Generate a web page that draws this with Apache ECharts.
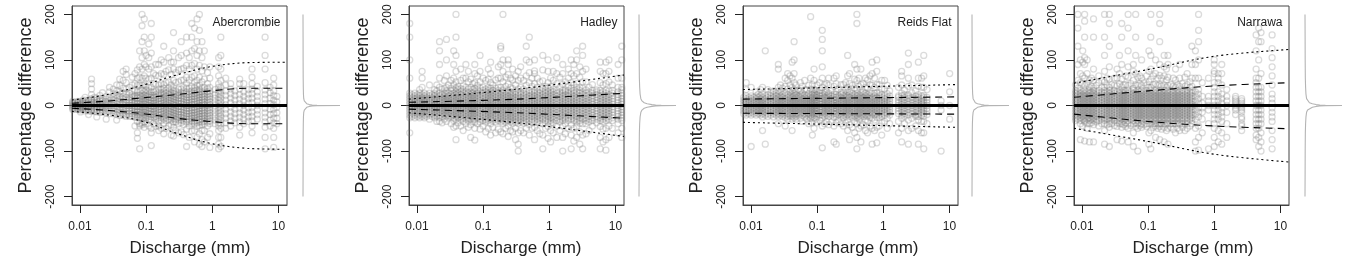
<!DOCTYPE html>
<html>
<head>
<meta charset="utf-8">
<script src="https://cdn.jsdelivr.net/npm/echarts@6/dist/echarts.min.js"></script>
<style>
html,body{margin:0;padding:0;background:#fff;}
#c{width:1362px;height:269px;}
</style>
</head>
<body>
<div id="c"></div>
<script>
// ---------- DATA ----------
const siteNames = ['Abercrombie', 'Hadley', 'Reids Flat', 'Narrawa'];
const xTicks = [0.01, 0.1, 1, 10];
const yTicks = [-200, -100, 0, 100, 200];

// Abercrombie: discharge columns (mm) and percentage differences read per column
const abercrombieX = [0.0078,0.0085,0.0093,0.0102,0.011,0.012,0.0135,0.015,0.0165,0.018,0.02,0.022,0.025,0.028,0.032,0.036,0.04,0.045,0.05,0.056,0.062,0.068,0.074,0.08,0.087,0.094,0.1,0.11,0.12,0.13,0.14,0.155,0.17,0.185,0.2,0.22,0.24,0.26,0.28,0.31,0.34,0.37,0.41,0.45,0.49,0.54,0.59,0.64,0.7,0.76,0.85,0.92,1.1,1.25,1.35,1.6,1.9,2.2,2.6,3.0,3.5,4.0,4.8,6.3,7.5,8.5,9.5];
const abercrombieY = [
[-9,-6,-3,0,3,6,9],[-8,-5,-2,1,4,7],[-9,-6,-3,0,3,6,9],[-10,-7,-4,-1,2,5,8,-14],[-9,-6,-3,0,3,6,9,12],[-12,-8,-4,0,4,8,12,18],
[-12,-8,-4,0,4,8,12,-20],[-13,-9,-5,-1,3,7,11,15,24,36,48,58],[-13,-8,-3,2,7,12,18],[-14,-9,-4,1,6,11,16,-25],[-15,-10,-5,0,5,10,15,22],
[-15,-10,-5,0,5,10,15,28],[-16,-11,-6,-1,4,9,14,20,-30],[-18,-12,-6,0,6,12,18,30,40],[-18,-12,-6,0,6,12,18,26,36],
[-20,-14,-8,-2,4,10,16,22,32,45,-32],[-22,-16,-10,-4,2,8,14,20,30,44,58],[-22,-16,-10,-4,2,8,14,20,28,38,55,75],
[-24,-18,-12,-6,0,6,12,18,25,36,50,68,80],[-24,-18,-12,-6,0,6,12,18,27,40],[-24,-18,-12,-6,0,6,12,18,24,32,45,62],
[-26,-20,-14,-8,-2,4,10,16,22,32,48,70,-45],[-26,-20,-14,-8,-2,4,10,16,22,30,44,60,78,-60,-72,-35],
[-26,-20,-14,-8,-2,4,10,16,22,30,45,62,85,120,-40,-45,-95],[-42,-38,-28,-22,-16,-10,-4,2,8,14,20,26,34,44,60,80,105,140,175,200],
[-48,-36,-26,-20,-14,-8,-2,4,10,16,22,30,45,65,90,120,150,190],[-40,-28,-22,-16,-10,-4,2,8,14,20,26,34,42,60,85,110],
[-45,-30,-24,-18,-12,-6,0,6,12,18,24,32,40,58,80,105,135],[-88,-50,-32,-25,-19,-13,-7,-1,5,11,17,23,30,40,60,85,115,150,180,-60],
[-40,-26,-20,-14,-8,-2,4,10,16,22,30,48,70],[-46,-30,-24,-18,-12,-6,0,6,12,18,24,31,46,66,90],
[-55,-35,-27,-21,-15,-9,-3,3,9,15,21,28,36,45,65,90,-45],[-50,-33,-26,-20,-14,-8,-2,4,10,16,22,28,36,48,70,100],
[-62,-40,-30,-24,-18,-12,-6,0,6,12,18,24,30,38,46,68,95,130],[-50,-33,-27,-21,-15,-9,-3,3,9,15,21,27,33,50,75],
[-45,-30,-24,-18,-12,-6,0,6,12,18,24,30,38,52,78,105],[-65,-42,-32,-26,-20,-14,-8,-2,4,10,16,22,28,36,45,68,95],
[-67,-48,-36,-28,-22,-16,-10,-4,2,8,14,20,26,32,40,55,80,95,120,160],[-55,-36,-30,-24,-18,-12,-6,0,6,12,18,24,32,50,72],
[-60,-40,-32,-26,-20,-14,-8,-2,4,10,16,22,28,36,52,78,105],[-58,-38,-32,-26,-20,-14,-8,-2,4,10,16,22,28,36,55,80,110,140],
[-64,-42,-34,-28,-22,-16,-10,-4,2,8,14,20,26,32,40,56,82],[-90,-52,-36,-30,-24,-18,-12,-6,0,6,12,18,24,30,38,48,62,88,115,150],
[-70,-45,-36,-30,-24,-18,-12,-6,0,6,12,18,24,30,38,56,80,105],[-56,-40,-34,-28,-22,-16,-10,-4,2,8,14,20,26,32,42,62,88,120,150,180],
[-80,-55,-40,-34,-28,-22,-16,-10,-4,2,8,14,20,26,32,40,50,65,92,125,170],[-70,-46,-38,-32,-26,-20,-14,-8,-2,4,10,16,22,28,34,44,55,80,110,140,190],
[-85,-62,-44,-36,-30,-24,-18,-12,-6,0,6,12,18,24,30,36,45,62,88,120,165,200],[-90,-75,-55,-42,-36,-30,-24,-18,-12,-6,0,6,12,18,24,30,38,52,76,105,140],
[-80,-55,-40,-34,-28,-22,-16,-10,-4,2,8,14,20,26,32,40,58,85,120],[-70,-45,-36,-30,-24,-18,-12,-6,0,6,12,18,24,30,38,48,72],
[-92,-62,-40,-34,-28,-22,-16,-10,-4,2,8,14,20,26,32,40,60,85],[-40,-32,-24,-16,-8,0,8,16,24,35],
[-95,-85,-70,-55,-45,-38,-31,-24,-17,-10,-3,4,11,18,25,32,40,48,65,85,105],[-90,-70,-50,-40,-32,-24,-16,-8,0,8,16,24,32,40,55,80,110,150],
[-50,-38,-28,-18,-8,2,12,22,32,45,60],[-45,-34,-24,-14,-4,6,16,26,36,48],[-38,-28,-18,-8,2,12,22,32],
[-65,-48,-36,-26,-16,-6,4,14,24,36,48,58],[-40,-30,-20,-10,0,10,20,30,48],[-35,-25,-15,-5,5,15,25,35],
[-60,-45,-34,-24,-14,-4,6,16,26,36,48,62,80],[-30,-20,-10,0,10,20,30,42],[-95,-70,-48,-36,-26,-16,-6,4,14,24,34,50,80,110,150,180],
[-45,-32,-20,-8,4,16,28,40],[-92,-70,-50,-38,-28,-18,-8,2,12,22,32,45,60],[-40,-28,-16,-4,8,20]
];

// Hadley
const hadleyX = [0.0078,0.0085,0.0093,0.0102,0.011,0.012,0.013,0.014,0.0155,0.017,0.0185,0.02,0.022,0.024,0.026,0.028,0.03,0.033,0.036,0.039,0.042,0.046,0.05,0.055,0.06,0.065,0.07,0.075,0.082,0.09,0.1,0.11,0.12,0.13,0.14,0.155,0.17,0.185,0.2,0.22,0.24,0.26,0.28,0.31,0.34,0.37,0.41,0.45,0.5,0.55,0.6,0.66,0.72,0.8,0.88,0.96,1.05,1.15,1.3,1.45,1.6,1.75,1.95,2.15,2.35,2.6,2.9,3.2,3.6,4.0,4.5,5.2,5.9,6.5,7.2,8.0,9.0,11,12.5];
const hadleyY = [
[-60,-27,-21,-15,-9,-3,3,9,15,21,27,60,100,150,180],[-24,-18,-12,-6,0,6,12,18,24],[-27,-21,-15,-9,-3,3,9,15,21,27],
[-24,-18,-12,-6,0,6,12,18,24],[-27,-21,-15,-9,-3,3,9,15,21,27,35],[-24,-18,-12,-6,0,6,12,18,24,40,60,75],
[-27,-21,-15,-9,-3,3,9,15,21,27],[-24,-18,-12,-6,0,6,12,18,24],[-30,-21,-15,-9,-3,3,9,15,21,27,45],
[-24,-18,-12,-6,0,6,12,18,24],[-27,-21,-15,-9,-3,3,9,15,21,27,35],[-35,-24,-18,-12,-6,0,6,12,18,24,32,45],
[-27,-21,-15,-9,-3,3,9,15,21,27,40,60,90,120,140,-35],[-38,-24,-18,-12,-6,0,6,12,18,24,36],[-30,-21,-15,-9,-3,3,9,15,21,27,38,55],
[-35,-24,-18,-12,-6,0,6,12,18,24,32,40,65,100,145],[-27,-21,-15,-9,-3,3,9,15,21,27,45],[-40,-24,-18,-12,-6,0,6,12,18,24,32,38,55],
[-48,-33,-27,-21,-15,-9,-3,3,9,15,21,27,35,45,60,90,120],[-75,-45,-30,-24,-18,-12,-6,0,6,12,18,24,30,38,52,75,110,150,200],
[-38,-27,-21,-15,-9,-3,3,9,15,21,27,35,42],[-45,-30,-24,-18,-12,-6,0,6,12,18,24,30,37,55,80],
[-55,-35,-27,-21,-15,-9,-3,3,9,15,21,27,35,43,60],[-40,-30,-24,-18,-12,-6,0,6,12,18,24,30,40,60,90],
[-48,-33,-27,-21,-15,-9,-3,3,9,15,21,27,36,52,75],[-70,-42,-30,-24,-18,-12,-6,0,6,12,18,24,30,40,58],
[-35,-27,-21,-15,-9,-3,3,9,15,21,27,35,48],[-76,-50,-36,-30,-24,-18,-12,-6,0,6,12,18,24,30,38,50,70,90],
[-40,-27,-21,-15,-9,-3,3,9,15,21,27,35,44,65],[-52,-36,-30,-24,-18,-12,-6,0,6,12,18,24,30,38,52,75,110],
[-45,-33,-27,-21,-15,-9,-3,3,9,15,21,27,33,40,60],[-58,-36,-30,-24,-18,-12,-6,0,6,12,18,24,30,36,55],
[-50,-33,-27,-21,-15,-9,-3,3,9,15,21,27,33,40,58,80],[-65,-40,-30,-24,-18,-12,-6,0,6,12,18,24,30,38,50,70,95],
[-48,-33,-27,-21,-15,-9,-3,3,9,15,21,27,33,45],[-60,-36,-30,-24,-18,-12,-6,0,6,12,18,24,30,38,56],
[-52,-33,-27,-21,-15,-9,-3,3,9,15,21,27,33,40,60,85],[-58,-36,-30,-24,-18,-12,-6,0,6,12,18,24,30,40,60,90,125,130],
[-62,-40,-33,-27,-21,-15,-9,-3,3,9,15,21,27,34,52,75,100,200],[-50,-36,-30,-24,-18,-12,-6,0,6,12,18,24,30,42,62],
[-68,-45,-33,-27,-21,-15,-9,-3,3,9,15,21,27,33,47,68,90,100],[-55,-36,-30,-24,-18,-12,-6,0,6,12,18,24,30,40,60],
[-58,-39,-33,-27,-21,-15,-9,-3,3,9,15,21,27,37,56,80],[-75,-50,-36,-30,-24,-18,-12,-6,0,6,12,18,24,30,45,65],
[-100,-85,-60,-39,-33,-27,-21,-15,-9,-3,3,9,15,21,27,36,55,75],[-55,-36,-30,-24,-18,-12,-6,0,6,12,18,24,30,40,60,85],
[-60,-39,-33,-27,-21,-15,-9,-3,3,9,15,21,27,36,55],[-50,-36,-30,-24,-18,-12,-6,0,6,12,18,24,30,44,65,100,130],
[-65,-42,-33,-27,-21,-15,-9,-3,3,9,15,21,27,33,50,72,95,150],[-50,-36,-30,-24,-18,-12,-6,0,6,12,18,24,30,42,60],
[-75,-48,-33,-27,-21,-15,-9,-3,3,9,15,21,27,33,48,70,76,100],[-55,-36,-30,-24,-18,-12,-6,0,6,12,18,24,30,40,60],
[-62,-40,-33,-27,-21,-15,-9,-3,3,9,15,21,27,34,52],[-95,-65,-40,-30,-24,-18,-12,-6,0,6,12,18,24,30,38,54,78,110],
[-50,-33,-27,-21,-15,-9,-3,3,9,15,21,27,33,42],[-72,-46,-36,-30,-24,-18,-12,-6,0,6,12,18,24,30,38,50,75,100],
[-80,-55,-39,-33,-27,-21,-15,-9,-3,3,9,15,21,27,33,42,60],[-60,-38,-30,-24,-18,-12,-6,0,6,12,18,24,30,36,55,75],
[-70,-45,-33,-27,-21,-15,-9,-3,3,9,15,21,27,33,48,70,105],[-55,-36,-30,-24,-18,-12,-6,0,6,12,18,24,30,40,62],
[-100,-70,-45,-33,-27,-21,-15,-9,-3,3,9,15,21,27,33,47,70,90],[-62,-40,-30,-24,-18,-12,-6,0,6,12,18,24,30,34,52],
[-50,-33,-27,-21,-15,-9,-3,3,9,15,21,27,33,42,60,80],[-95,-65,-42,-30,-24,-18,-12,-6,0,6,12,18,24,30,38,50,70,100],
[-78,-50,-33,-27,-21,-15,-9,-3,3,9,15,21,27,33,45,65,90],[-70,-46,-36,-30,-24,-18,-12,-6,0,6,12,18,24,30,40,48,70,100,120],
[-85,-58,-39,-33,-27,-21,-15,-9,-3,3,9,15,21,27,33,40,62,85],[-95,-65,-40,-30,-24,-18,-12,-6,0,6,12,18,24,30,38,52,75,110,130],
[-62,-40,-33,-27,-21,-15,-9,-3,3,9,15,21,27,34,52,80],[-55,-36,-30,-24,-18,-12,-6,0,6,12,18,24,30,40],
[-45,-33,-27,-21,-15,-9,-3,3,9,15,21,27,33,46],[-38,-30,-24,-18,-12,-6,0,6,12,18,24,30,34],
[-95,-70,-46,-33,-27,-21,-15,-9,-3,3,9,15,21,27,33,50,75,95],[-80,-52,-36,-30,-24,-18,-12,-6,0,6,12,18,24,30,45,70],
[-98,-75,-50,-33,-27,-21,-15,-9,-3,3,9,15,21,27,33,48,70,95],[-70,-45,-30,-24,-18,-12,-6,0,6,12,18,24,32,52,75,100],
[-50,-33,-27,-21,-15,-9,-3,3,9,15,21,27,33,45],[-60,-40,-30,-24,-18,-12,-6,0,6,12,18,24,30,40,60,90],
[-70,-50,-33,-27,-21,-15,-9,-3,3,9,15,21,27,35,40,60,100,130]
];

// Reids Flat
const reidsFlatX = [0.0078,0.0085,0.0093,0.0101,0.011,0.012,0.013,0.014,0.015,0.0165,0.018,0.02,0.022,0.024,0.026,0.028,0.03,0.033,0.036,0.039,0.042,0.045,0.048,0.052,0.056,0.06,0.065,0.07,0.075,0.08,0.085,0.09,0.095,0.1,0.11,0.12,0.13,0.14,0.15,0.165,0.18,0.195,0.21,0.23,0.25,0.27,0.29,0.31,0.34,0.37,0.4,0.43,0.46,0.5,0.54,0.58,0.63,0.68,0.74,0.8,0.87,0.95,1.05,1.15,1.25,1.7,1.9,2.1,2.4,2.7,3.1,3.4,3.8,4.1,4.6,7.5,10.1];
const reidsFlatY = [
[-18,-12,-6,0,6,12,18],[-21,-15,-9,-3,3,9,15,21,35,50],[-18,-12,-6,0,6,12,18],[-90,-21,-15,-9,-3,3,9,15,21,40],
[-18,-12,-6,0,6,12,18],[-21,-15,-9,-3,3,9,15,21,30],[-18,-12,-6,0,6,12,18,25],[-21,-15,-9,-3,3,9,15,21,35],
[-55,-25,-18,-12,-6,0,6,12,18,25,40],[-85,-21,-15,-9,-3,3,9,15,21,120],[-24,-18,-12,-6,0,6,12,18,24,35],
[-21,-15,-9,-3,3,9,15,21,28],[-25,-18,-12,-6,0,6,12,18,24,32],[-21,-15,-9,-3,3,9,15,21,27],
[-40,-24,-18,-12,-6,0,6,12,18,24,32,40,80,90],[-21,-15,-9,-3,3,9,15,21,30,45],[-24,-18,-12,-6,0,6,12,18,24,38],
[-45,-27,-21,-15,-9,-3,3,9,15,21,28,42,60],[-30,-24,-18,-12,-6,0,6,12,18,24,36,55,70],[-22,-15,-9,-3,3,9,15,21,30,45,65],
[-55,-30,-24,-18,-12,-6,0,6,12,18,24,32,40,60,95],[-27,-21,-15,-9,-3,3,9,15,21,27,35,50,70,100,140],
[-30,-24,-18,-12,-6,0,6,12,18,24,30,45],[-21,-15,-9,-3,3,9,15,21,34],[-28,-18,-12,-6,0,6,12,18,24,32,50],
[-35,-21,-15,-9,-3,3,9,15,21,27,42],[-26,-18,-12,-6,0,6,12,18,24,35,55],[-30,-21,-15,-9,-3,3,9,15,21,34],
[-40,-24,-18,-12,-6,0,6,12,18,26,44],[-28,-21,-15,-9,-3,3,9,15,21,36,60,195],[-65,-38,-24,-18,-12,-6,0,6,12,18,24,30,46],
[-50,-27,-21,-15,-9,-3,3,9,15,21,27,35,55,80],[-30,-18,-12,-6,0,6,12,18,24,34],[-38,-24,-18,-12,-6,0,6,12,18,24,30,45],
[-32,-21,-15,-9,-3,3,9,15,21,27,33,50],[-93,-45,-27,-21,-15,-9,-3,3,9,15,21,27,40,60,85,120,145,165],
[-40,-24,-18,-12,-6,0,6,12,18,24,29,46],[-35,-21,-15,-9,-3,3,9,15,21,30,48],[-42,-24,-18,-12,-6,0,6,12,18,24,27,44,60],
[-36,-21,-15,-9,-3,3,9,15,21,33],[-80,-45,-26,-18,-12,-6,0,6,12,18,25,42,60],[-85,-38,-24,-18,-12,-6,0,6,12,18,24,31,48,65],
[-32,-21,-15,-9,-3,3,9,15,21,36],[-40,-24,-18,-12,-6,0,6,12,18,24,29,46],[-45,-27,-21,-15,-9,-3,3,9,15,21,28,46],
[-38,-24,-18,-12,-6,0,6,12,18,24,34,50],[-55,-32,-21,-15,-9,-3,3,9,15,21,30,40,65,110],[-75,-42,-24,-18,-12,-6,0,6,12,18,24,30,48,70],
[-48,-27,-21,-15,-9,-3,3,9,15,21,27,44],[-60,-35,-24,-18,-12,-6,0,6,12,18,24,38,58,90],
[-95,-70,-40,-27,-21,-15,-9,-3,3,9,15,21,27,34,55,80,180,200],[-50,-30,-24,-18,-12,-6,0,6,12,18,24,42,60],
[-80,-45,-27,-21,-15,-9,-3,3,9,15,21,28,46,80],[-42,-24,-18,-12,-6,0,6,12,18,24,30,48],[-55,-32,-21,-15,-9,-3,3,9,15,21,27,40,60],
[-60,-35,-24,-18,-12,-6,0,6,12,18,24,38,56],[-45,-27,-21,-15,-9,-3,3,9,15,21,28,46,65],[-85,-50,-28,-18,-12,-6,0,6,12,18,26,44,70,95],
[-55,-32,-21,-15,-9,-3,3,9,15,21,27,40,60],[-82,-48,-26,-18,-12,-6,0,6,12,18,28,46,75,100],[-45,-27,-21,-15,-9,-3,3,9,15,21,28,46],
[-65,-38,-24,-18,-12,-6,0,6,12,18,24,36,55],[-35,-21,-15,-9,-3,3,9,15,21,36,55],[-50,-28,-18,-12,-6,0,6,12,18,26,44],
[-40,-21,-15,-9,-3,3,9,15,21,32],[-60,-35,-18,-12,-6,0,6,12,18,21,40],[-80,-50,-28,-21,-15,-9,-3,3,9,15,21,27,45,65,75],
[-40,-24,-18,-12,-6,0,6,12,18,24,34],[-85,-55,-32,-21,-15,-9,-3,3,9,15,21,24,42,60,90,115],[-50,-28,-18,-12,-6,0,6,12,18,28,45],
[-45,-24,-21,-15,-9,-3,3,9,15,21,32],[-85,-55,-32,-24,-18,-12,-6,0,6,12,18,24,42,60,95],[-60,-35,-21,-15,-9,-3,3,9,15,21,40,60],
[-95,-60,-35,-24,-18,-12,-6,0,6,12,18,22,40,65,110],[-40,-20,-12,-6,0,6,12,18,35],[-100,-10,0,10],[-30,0,30,70]
];

// Narrawa
const narrawaX = [0.0075,0.008,0.0087,0.0095,0.0103,0.011,0.012,0.013,0.014,0.015,0.0165,0.018,0.02,0.022,0.024,0.026,0.028,0.031,0.034,0.037,0.04,0.043,0.046,0.05,0.055,0.06,0.065,0.07,0.075,0.08,0.087,0.095,0.103,0.11,0.12,0.13,0.14,0.15,0.16,0.175,0.19,0.2,0.22,0.24,0.26,0.28,0.3,0.33,0.36,0.39,0.43,0.46,0.52,0.58,0.66,0.82,1.0,1.15,1.3,1.55,2.1,2.6,4.3,4.7,5.1,7.5];
const narrawaY = [
[-40,-30,-24,-18,-12,-6,0,6,12,18,24,30,40,60],[-33,-27,-21,-15,-9,-3,3,9,15,21,27,33,45],
[-30,-24,-18,-12,-6,0,6,12,18,24,30,38,55,90,130,170,200],[-75,-40,-33,-27,-21,-15,-9,-3,3,9,15,21,27,33,50,70,100],
[-45,-30,-24,-18,-12,-6,0,6,12,18,24,30,48,65,95,120],[-78,-36,-33,-27,-21,-15,-9,-3,3,9,15,21,27,33,44,60,90,105,150,185,200],
[-50,-40,-30,-24,-18,-12,-6,0,6,12,18,24,30,48,70,100],[-80,-40,-33,-27,-21,-15,-9,-3,3,9,15,21,27,33,40,56],
[-38,-30,-24,-18,-12,-6,0,6,12,18,24,30,42,60],[-80,-42,-33,-27,-21,-15,-9,-3,3,9,15,21,27,33,38,55,80,150,190],
[-36,-30,-24,-18,-12,-6,0,6,12,18,24,30,44],[-45,-33,-27,-21,-15,-9,-3,3,9,15,21,27,33,50,65],
[-40,-30,-24,-18,-12,-6,0,6,12,18,24,30,40,55],[-85,-55,-40,-33,-27,-21,-15,-9,-3,3,9,15,21,27,33,40,52,75,110,150,200],
[-42,-30,-24,-18,-12,-6,0,6,12,18,24,30,44,60],[-90,-48,-40,-33,-27,-21,-15,-9,-3,3,9,15,21,27,33,40,58,85,130,180,200],
[-40,-30,-24,-18,-12,-6,0,6,12,18,24,30,46],[-44,-33,-27,-21,-15,-9,-3,3,9,15,21,27,33,44,60],
[-75,-46,-38,-30,-24,-18,-12,-6,0,6,12,18,24,30,43,60,80],[-40,-33,-27,-21,-15,-9,-3,3,9,15,21,27,33,48,70,110],
[-78,-48,-40,-30,-24,-18,-12,-6,0,6,12,18,24,30,41,58,90,150,180],[-42,-33,-27,-21,-15,-9,-3,3,9,15,21,27,33,45],
[-46,-38,-30,-24,-18,-12,-6,0,6,12,18,24,30,46,65],[-80,-50,-40,-33,-27,-21,-15,-9,-3,3,9,15,21,27,33,44,62,85,120,170,200],
[-44,-30,-24,-18,-12,-6,0,6,12,18,24,30,48],[-90,-60,-40,-33,-27,-21,-15,-9,-3,3,9,15,21,27,33,38,55,75,90],
[-46,-38,-30,-24,-18,-12,-6,0,6,12,18,24,30,46,70,110,150,200],[-100,-50,-40,-33,-27,-21,-15,-9,-3,3,9,15,21,27,33,44,62],
[-44,-30,-24,-18,-12,-6,0,6,12,18,24,30,48,65],[-48,-40,-33,-27,-21,-15,-9,-3,3,9,15,21,27,33,44,60,100],
[-42,-30,-24,-18,-12,-6,0,6,12,18,24,30,50],[-46,-40,-33,-27,-21,-15,-9,-3,3,9,15,21,27,33,45,65],
[-85,-60,-40,-30,-24,-18,-12,-6,0,6,12,18,24,30,40,52,75,120],[-95,-55,-40,-33,-27,-21,-15,-9,-3,3,9,15,21,27,33,40,58,80,110,150,200],
[-48,-40,-30,-24,-18,-12,-6,0,6,12,18,24,30,46,65],[-70,-45,-40,-33,-27,-21,-15,-9,-3,3,9,15,21,27,33,47,70,100],
[-50,-40,-30,-24,-18,-12,-6,0,6,12,18,24,30,44,60],[-75,-46,-40,-33,-27,-21,-15,-9,-3,3,9,15,21,27,33,46,66,90,140,180,200],
[-52,-40,-30,-24,-18,-12,-6,0,6,12,18,24,30,43,60],[-80,-48,-40,-33,-27,-21,-15,-9,-3,3,9,15,21,27,33,45,65,85,110],
[-55,-40,-30,-24,-18,-12,-6,0,6,12,18,24,30,40,56,80],[-85,-50,-40,-33,-27,-21,-15,-9,-3,3,9,15,21,27,33,44,62,90,110],
[-48,-40,-30,-24,-18,-12,-6,0,6,12,18,24,30,46],[-52,-40,-33,-27,-21,-15,-9,-3,3,9,15,21,27,33,42,60],
[-60,-40,-30,-24,-18,-12,-6,0,6,12,18,24,30,40,56,80],[-50,-40,-33,-27,-21,-15,-9,-3,3,9,15,21,27,33,46],
[-55,-40,-30,-24,-18,-12,-6,0,6,12,18,24,30,42,60,90],[-48,-40,-33,-27,-21,-15,-9,-3,3,9,15,21,27,33,48],
[-55,-40,-30,-24,-18,-12,-6,0,6,12,18,24,30,42,62],[-50,-40,-33,-27,-21,-15,-9,-3,3,9,15,21,27,33,46,70],
[-45,-30,-24,-18,-12,-6,0,6,12,18,24,30,40,52],[-40,-33,-27,-21,-15,-9,-3,3,9,15,21,27,33,42,60,90,130],
[-100,-80,-50,-30,-20,-10,0,10,20,30,60,90,120],[-98,-70,-45,-25,-15,-5,5,15,25,35,60,100,140,165,200],
[-60,-30,-15,-5,5,20,50],[-95,-40,-10,0,10,20,60],[-90,-70,-50,-40,-30,-20,-10,0,10,20,30,40,50,70,75,90,100],
[-80,-55,-30,-20,-10,0,10,20,30,50,60,70],[-85,-60,-35,-25,-15,-5,5,15,25,45,70,90],[-70,-40,-15,0,10,20,35],
[-20,-10,-5,0,5,10,15,20],[-55,-45,-40,-30,-25,-15,-10,-5,0,5,10,15],
[-75,-65,-50,-40,-30,-20,-10,0,10,20,30,40,50,60,80,120,155],[-90,-70,-50,-40,-30,-20,-10,0,10,20,30,40,60,100,140,170],
[-100,-80,-60,-40,-30,-20,-10,0,10,20,30,40,70,140,160],[-95,-75,-55,-35,-25,-15,-5,5,15,25,45,65,85,105,125,155]
];

// Envelope lines (dotted = outer, dashed = inner)
const abercrombieLineX = [0.0076,0.028,0.091,0.29,0.93,3.4,13.5];
const abercrombieDotUp = [12,25,45,67,85,94,95];
const abercrombieDotLo = [-13,-21,-35,-61,-83,-94,-96];
const abercrombieDashUp = [5,10,17,24,32,38,38];
const abercrombieDashLo = [-6,-11,-18,-28,-35,-40,-40];

const hadleyLineX = [0.0076,0.33,13.5];
const hadleyDotUp = [14,36,67];
const hadleyDotLo = [-16,-38,-68];
const hadleyDashUp = [7,14,27];
const hadleyDashLo = [-8,-16,-28];

const reidsFlatLineX = [0.0076,13.5];
const reidsFlatDotUp = [35,46];
const reidsFlatDotLo = [-37,-48];
const reidsFlatDashUp = [14,19];
const reidsFlatDashLo = [-17,-19];

const narrawaLineX = [0.0076,0.1,1,13.5];
const narrawaDotUp = [49,79,108,123];
const narrawaDotLo = [-50,-79,-107,-124];
const narrawaDashUp = [18,32,43,50];
const narrawaDashLo = [-19,-35,-45,-51];

// Marginal densities (relative density at each percentage difference)
const densityLevels = [-200,-150,-100,-60,-40,-25,-15,-10,-6,-4,-2,-1,-0.5,0,0.5,1,2,4,6,10,15,25,40,60,100,150,200];
const abercrombieDensity = [0,0.002,0.003,0.005,0.008,0.012,0.02,0.035,0.06,0.1,0.17,0.25,0.38,1,0.38,0.25,0.17,0.1,0.06,0.035,0.02,0.012,0.008,0.005,0.003,0.002,0];
const hadleyDensity = [0,0.003,0.005,0.01,0.018,0.03,0.05,0.08,0.14,0.22,0.35,0.45,0.6,1,0.6,0.45,0.35,0.22,0.14,0.08,0.05,0.03,0.018,0.01,0.005,0.003,0];
const reidsFlatDensity = [0,0.002,0.004,0.007,0.011,0.018,0.03,0.05,0.09,0.15,0.25,0.33,0.45,1,0.45,0.33,0.25,0.15,0.09,0.05,0.03,0.018,0.011,0.007,0.004,0.002,0];
const narrawaDensity = [0,0.003,0.005,0.009,0.016,0.026,0.042,0.07,0.12,0.2,0.3,0.4,0.55,1,0.55,0.4,0.3,0.2,0.12,0.07,0.042,0.026,0.016,0.009,0.005,0.003,0];

// ---------- BUILD ----------
const panels = [
  {name: siteNames[0], X: abercrombieX, Y: abercrombieY, lx: abercrombieLineX, du: abercrombieDotUp, dl: abercrombieDotLo, su: abercrombieDashUp, sl: abercrombieDashLo, dens: abercrombieDensity,
   left: 72, dLeft: 303, xTitle: 190},
  {name: siteNames[1], X: hadleyX, Y: hadleyY, lx: hadleyLineX, du: hadleyDotUp, dl: hadleyDotLo, su: hadleyDashUp, sl: hadleyDashLo, dens: hadleyDensity,
   left: 409, dLeft: 639, xTitle: 521},
  {name: siteNames[2], X: reidsFlatX, Y: reidsFlatY, lx: reidsFlatLineX, du: reidsFlatDotUp, dl: reidsFlatDotLo, su: reidsFlatDashUp, sl: reidsFlatDashLo, dens: reidsFlatDensity,
   left: 743, dLeft: 972, xTitle: 858},
  {name: siteNames[3], X: narrawaX, Y: narrawaY, lx: narrawaLineX, du: narrawaDotUp, dl: narrawaDotLo, su: narrawaDashUp, sl: narrawaDashLo, dens: narrawaDensity,
   left: 1074, dLeft: 1305, xTitle: 1193}
];

const FONT = '"Liberation Sans", Arial, Helvetica, sans-serif';
const W = 215, TOP = 6, H = 199;
const YMIN = -218.4, YMAX = 218.4;
const XMIN = 0.0076, XMAX = 13.5;

const grid = [], xAxis = [], yAxis = [], series = [], graphic = [];
const pair = (xs, ys) => xs.map((x, i) => [x, ys[i]]);

panels.forEach((p, k) => {
  const gi = k * 2, di = k * 2 + 1;
  grid.push({left: p.left, top: TOP, width: W, height: H, show: true, borderColor: '#444', borderWidth: 1, backgroundColor: 'transparent', containLabel: false});
  grid.push({left: p.dLeft, top: TOP, width: 37, height: H, show: false, containLabel: false});

  xAxis.push({
    type: 'log', logBase: 10, gridIndex: gi, min: XMIN, max: XMAX,
    axisLine: {show: true, onZero: false, lineStyle: {color: '#444', width: 1}},
    axisTick: {show: true, length: 8, customValues: xTicks, lineStyle: {color: '#222', width: 1}},
    axisLabel: {show: true, customValues: xTicks, margin: 16, fontSize: 12, color: '#222', fontFamily: FONT,
      formatter: v => String(v)},
    splitLine: {show: false}, minorTick: {show: false}
  });
  xAxis.push({type: 'value', gridIndex: di, min: 0, max: 1, show: false});

  yAxis.push({
    type: 'value', gridIndex: gi, min: YMIN, max: YMAX,
    axisLine: {show: true, onZero: false, lineStyle: {color: '#444', width: 1}},
    axisTick: {show: true, length: 8, customValues: yTicks, lineStyle: {color: '#222', width: 1}},
    axisLabel: {show: true, customValues: yTicks, rotate: 90, margin: 15, fontSize: 12, color: '#222', fontFamily: FONT},
    splitLine: {show: false}
  });
  yAxis.push({type: 'value', gridIndex: di, min: YMIN, max: YMAX, show: false});

  const pts = [];
  p.X.forEach((x, i) => p.Y[i].forEach(y => pts.push([x, y])));
  series.push({
    type: 'scatter', xAxisIndex: gi, yAxisIndex: gi, data: pts, symbol: 'circle', symbolSize: 6,
    itemStyle: {color: 'rgba(0,0,0,0)', borderColor: 'rgba(115,115,115,0.32)', borderWidth: 1.3},
    silent: true, z: 1, large: false
  });
  const lineS = (ys, dash) => ({
    type: 'line', xAxisIndex: gi, yAxisIndex: gi, data: pair(p.lx, ys), smooth: 0.35, symbol: 'none', silent: true, z: 3,
    lineStyle: {color: '#000', width: 1.1, type: dash}
  });
  series.push(lineS(p.du, [2, 3]));
  series.push(lineS(p.dl, [2, 3]));
  series.push(lineS(p.su, [7, 5]));
  series.push(lineS(p.sl, [7, 5]));
  series.push({
    type: 'line', xAxisIndex: gi, yAxisIndex: gi, data: [], silent: true, z: 4,
    markLine: {silent: true, symbol: ['none', 'none'], label: {show: false}, animation: false,
      lineStyle: {color: '#000', width: 3, type: 'solid'}, data: [{yAxis: 0}]}
  });
  series.push({
    type: 'line', xAxisIndex: di, yAxisIndex: di, data: densityLevels.map((y, i) => [p.dens[i], y]),
    symbol: 'none', silent: true, lineStyle: {color: '#b4b4b4', width: 1.1}
  });

  graphic.push({type: 'text', x: p.left + W - 6.5, y: 23, style: {text: p.name, font: '12px ' + FONT, fill: '#222', align: 'right', verticalAlign: 'middle'}, z: 10});
  graphic.push({type: 'text', x: p.left - 46, y: TOP + H / 2, rotation: Math.PI / 2, style: {text: 'Percentage difference', font: '18px ' + FONT, fill: '#222', align: 'center', verticalAlign: 'middle'}, z: 10});
  graphic.push({type: 'text', x: p.xTitle, y: 248, style: {text: 'Discharge (mm)', font: '17px ' + FONT, fill: '#222', align: 'center', verticalAlign: 'middle'}, z: 10});
});

const chart = echarts.init(document.getElementById('c'), null, {renderer: 'canvas'});
chart.setOption({animation: false, backgroundColor: '#fff', grid, xAxis, yAxis, series, graphic});
</script>
</body>
</html>
